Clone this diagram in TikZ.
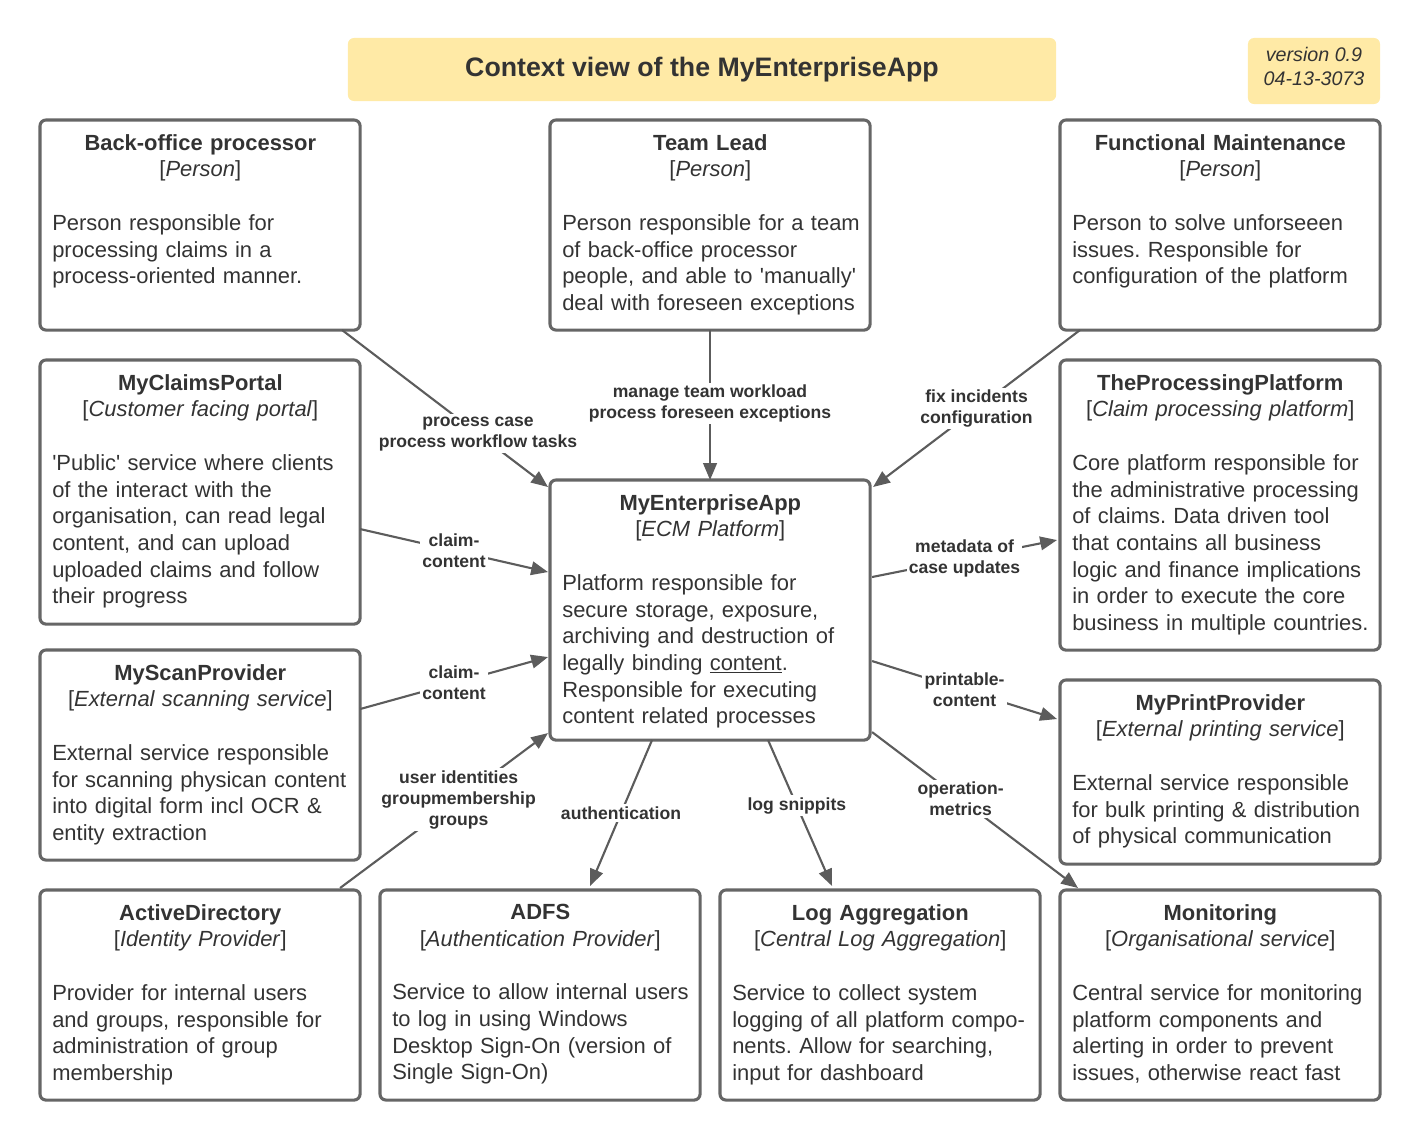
\documentclass[tikz,border=0pt]{standalone}
\usepackage{fontspec}
\setmainfont{Liberation Sans}
\usetikzlibrary{positioning,calc,arrows.meta}
\definecolor{inkgray}{HTML}{333333}
\definecolor{edgegray}{HTML}{666666}
\definecolor{wiregray}{HTML}{5C5C5C}
\definecolor{noteyellow}{HTML}{FFEAA6}
\setlength{\parindent}{0pt}
\frenchspacing

\begin{document}
\begin{tikzpicture}[x=0.025cm, y=-0.025cm,
  frame/.style = {draw=edgegray, line width=2.2pt, rounded corners=0.15cm, anchor=north west, minimum width=8cm, inner sep=0pt, outer sep=0pt},
  desc/.style = {text=inkgray, text width=7.9cm, inner sep=0pt, anchor=north west, font=\fontsize{15.6}{19}\selectfont\raggedright},
  flow/.style = {draw=wiregray, line width=1.5pt, -{Triangle[length=0.42cm, width=0.34cm]}},
  lbl/.style = {fill=white, text=inkgray, inner sep=1.5pt, align=center, font=\bfseries\fontsize{12.5}{15}\selectfont},
  note/.style = {fill=noteyellow, rounded corners=0.15cm, text=inkgray}]
  \useasboundingbox (0,0) rectangle (1420,1140);

  % header
  \node (title) at (702,69.5) [note, minimum width=17.7cm, minimum height=1.575cm, font=\bfseries\fontsize{19}{23}\selectfont] {Context view of the MyEnterpriseApp};
  \node (version) at (1314,71) [note, minimum width=3.3cm, minimum height=1.65cm, align=center, font=\itshape\fontsize{14}{17}\selectfont] {version 0.9\\04-13-3073\rule[-6pt]{0pt}{1pt}};

  % frames
  \node (backoffice) at (40,120)   [frame, minimum height=5.25cm] {};
  \node (teamlead)   at (550,120)  [frame, minimum height=5.25cm] {};
  \node (functional) at (1060,120) [frame, minimum height=5.25cm] {};
  \node (claims)     at (40,360)   [frame, minimum height=6.6cm] {};
  \node (mea)        at (550,480)  [frame, minimum height=6.5cm] {};
  \node (platform)   at (1060,360) [frame, minimum height=7.25cm] {};
  \node (scan)       at (40,650)   [frame, minimum height=5.25cm] {};
  \node (printp)     at (1060,680) [frame, minimum height=4.6cm] {};
  \node (ad)         at (40,890)   [frame, minimum height=5.25cm] {};
  \node (adfs)       at (380,890)  [frame, minimum height=5.25cm] {};
  \node (logagg)     at (720,890)  [frame, minimum height=5.25cm] {};
  \node (monitoring) at (1060,890) [frame, minimum height=5.25cm] {};

  % texts
  \node (backoffice-t) at ($(backoffice.north west)+(12,14)$) [desc] {\makebox[7.4cm]{\textbf{Back-office processor}}\\\makebox[7.4cm]{{[}\textit{Person}{]}}\\[19pt]
    Person responsible for\\processing claims in a\\process-oriented manner.};
  \node (teamlead-t) at ($(teamlead.north west)+(12,14)$) [desc] {\makebox[7.4cm]{\textbf{Team Lead}}\\\makebox[7.4cm]{{[}\textit{Person}{]}}\\[19pt]
    Person responsible for a team\\of back-office processor\\people, and able to \textquotesingle manually\textquotesingle\\deal with foreseen exceptions};
  \node (functional-t) at ($(functional.north west)+(12,14)$) [desc] {\makebox[7.4cm]{\textbf{Functional Maintenance}}\\\makebox[7.4cm]{{[}\textit{Person}{]}}\\[19pt]
    Person to solve unforseeen\\issues. Responsible for\\configuration of the platform};
  \node (claims-t) at ($(claims.north west)+(12,14)$) [desc] {\makebox[7.4cm]{\textbf{MyClaimsPortal}}\\\makebox[7.4cm]{{[}\textit{Customer facing portal}{]}}\\[19pt]
    \textquotesingle Public\textquotesingle{} service where clients\\of the interact with the\\organisation, can read legal\\content, and can upload\\uploaded claims and follow\\their progress};
  \node (mea-t) at ($(mea.north west)+(12,14)$) [desc] {\makebox[7.4cm]{\textbf{MyEnterpriseApp}}\\\makebox[7.4cm]{{[}\textit{ECM Platform}{]}}\\[19pt]
    Platform responsible for\\secure storage, exposure,\\archiving and destruction of\\legally binding \underline{content}.\\Responsible for executing\\content related processes};
  \node (platform-t) at ($(platform.north west)+(12,14)$) [desc] {\makebox[7.4cm]{\textbf{TheProcessingPlatform}}\\\makebox[7.4cm]{{[}\textit{Claim processing platform}{]}}\\[19pt]
    Core platform responsible for\\the administrative processing\\of claims. Data driven tool\\that contains all business\\logic and finance implications\\in order to execute the core\\business in multiple countries.};
  \node (scan-t) at ($(scan.north west)+(12,14)$) [desc] {\makebox[7.4cm]{\textbf{MyScanProvider}}\\\makebox[7.4cm]{{[}\textit{External scanning service}{]}}\\[19pt]
    External service responsible\\for scanning physican content\\into digital form incl OCR \&\\entity extraction};
  \node (printp-t) at ($(printp.north west)+(12,14)$) [desc] {\makebox[7.4cm]{\textbf{MyPrintProvider}}\\\makebox[7.4cm]{{[}\textit{External printing service}{]}}\\[19pt]
    External service responsible\\for bulk printing \& distribution\\of physical communication};
  \node (ad-t) at ($(ad.north west)+(12,14)$) [desc] {\makebox[7.4cm]{\textbf{ActiveDirectory}}\\\makebox[7.4cm]{{[}\textit{Identity Provider}{]}}\\[19pt]
    Provider for internal users\\and groups, responsible for\\administration of group\\membership};
  \node (adfs-t) at ($(adfs.north west)+(12,14)$) [desc] {\makebox[7.4cm]{\textbf{ADFS}}\\\makebox[7.4cm]{{[}\textit{Authentication Provider}{]}}\\[19pt]
    Service to allow internal users\\to log in using Windows\\Desktop Sign-On (version of\\Single Sign-On)};
  \node (logagg-t) at ($(logagg.north west)+(12,14)$) [desc] {\makebox[7.4cm]{\textbf{Log Aggregation}}\\\makebox[7.4cm]{{[}\textit{Central Log Aggregation}{]}}\\[19pt]
    Service to collect system\\logging of all platform compo-\\nents. Allow for searching,\\input for dashboard};
  \node (monitoring-t) at ($(monitoring.north west)+(12,14)$) [desc] {\makebox[7.4cm]{\textbf{Monitoring}}\\\makebox[7.4cm]{{[}\textit{Organisational service}{]}}\\[19pt]
    Central service for monitoring\\platform components and\\alerting in order to prevent\\issues, otherwise react fast};

  % relations
  \draw [flow] ($(backoffice.south east)+(-18,0)$) -- node (l1) [lbl, pos=.66] {process case\\process workflow tasks} ($(mea.north west)+(-2,7)$);
  \draw [flow] (teamlead.south) -- node (l2) [lbl, pos=.49] {manage team workload\\process foreseen exceptions} (mea.north);
  \draw [flow] ($(functional.south west)+(20,0)$) -- node (l3) [lbl] {fix incidents\\configuration} ($(mea.north east)+(3,7)$);
  \draw [flow] ($(claims.east)+(0,37)$) -- node (l4) [lbl] {claim-\\content} ($(mea.west)+(-2,-38)$);
  \draw [flow] ($(scan.east)+(0,-46)$) -- node (l5) [lbl] {claim-\\content} ($(mea.west)+(-2,47)$);
  \draw [flow] ($(ad.north east)+(-20,-2)$) -- node (l6) [lbl, pos=.57] {user identities\\groupmembership\\groups} ($(mea.south west)+(-2,-7)$);
  \draw [flow] ($(mea.south)+(-58,0)$) -- node (l7) [lbl] {authentication} ($(adfs.north)+(50,-4)$);
  \draw [flow] ($(mea.south)+(58,0)$) -- node (l8) [lbl, pos=.45] {log snippits} ($(logagg.north)+(-48,-4)$);
  \draw [flow] ($(mea.south east)+(2,-8)$) -- node (l9) [lbl, pos=.43] {operation-\\metrics} ($(monitoring.north west)+(18,-2)$);
  \draw [flow] ($(mea.east)+(2,-33)$) -- node (l10) [lbl] {metadata of\\case updates} ($(platform.west)+(-3,35)$);
  \draw [flow] ($(mea.east)+(2,51)$) -- node (l11) [lbl] {printable-\\content} ($(printp.west)+(-3,-53)$);
\end{tikzpicture}
\end{document}
